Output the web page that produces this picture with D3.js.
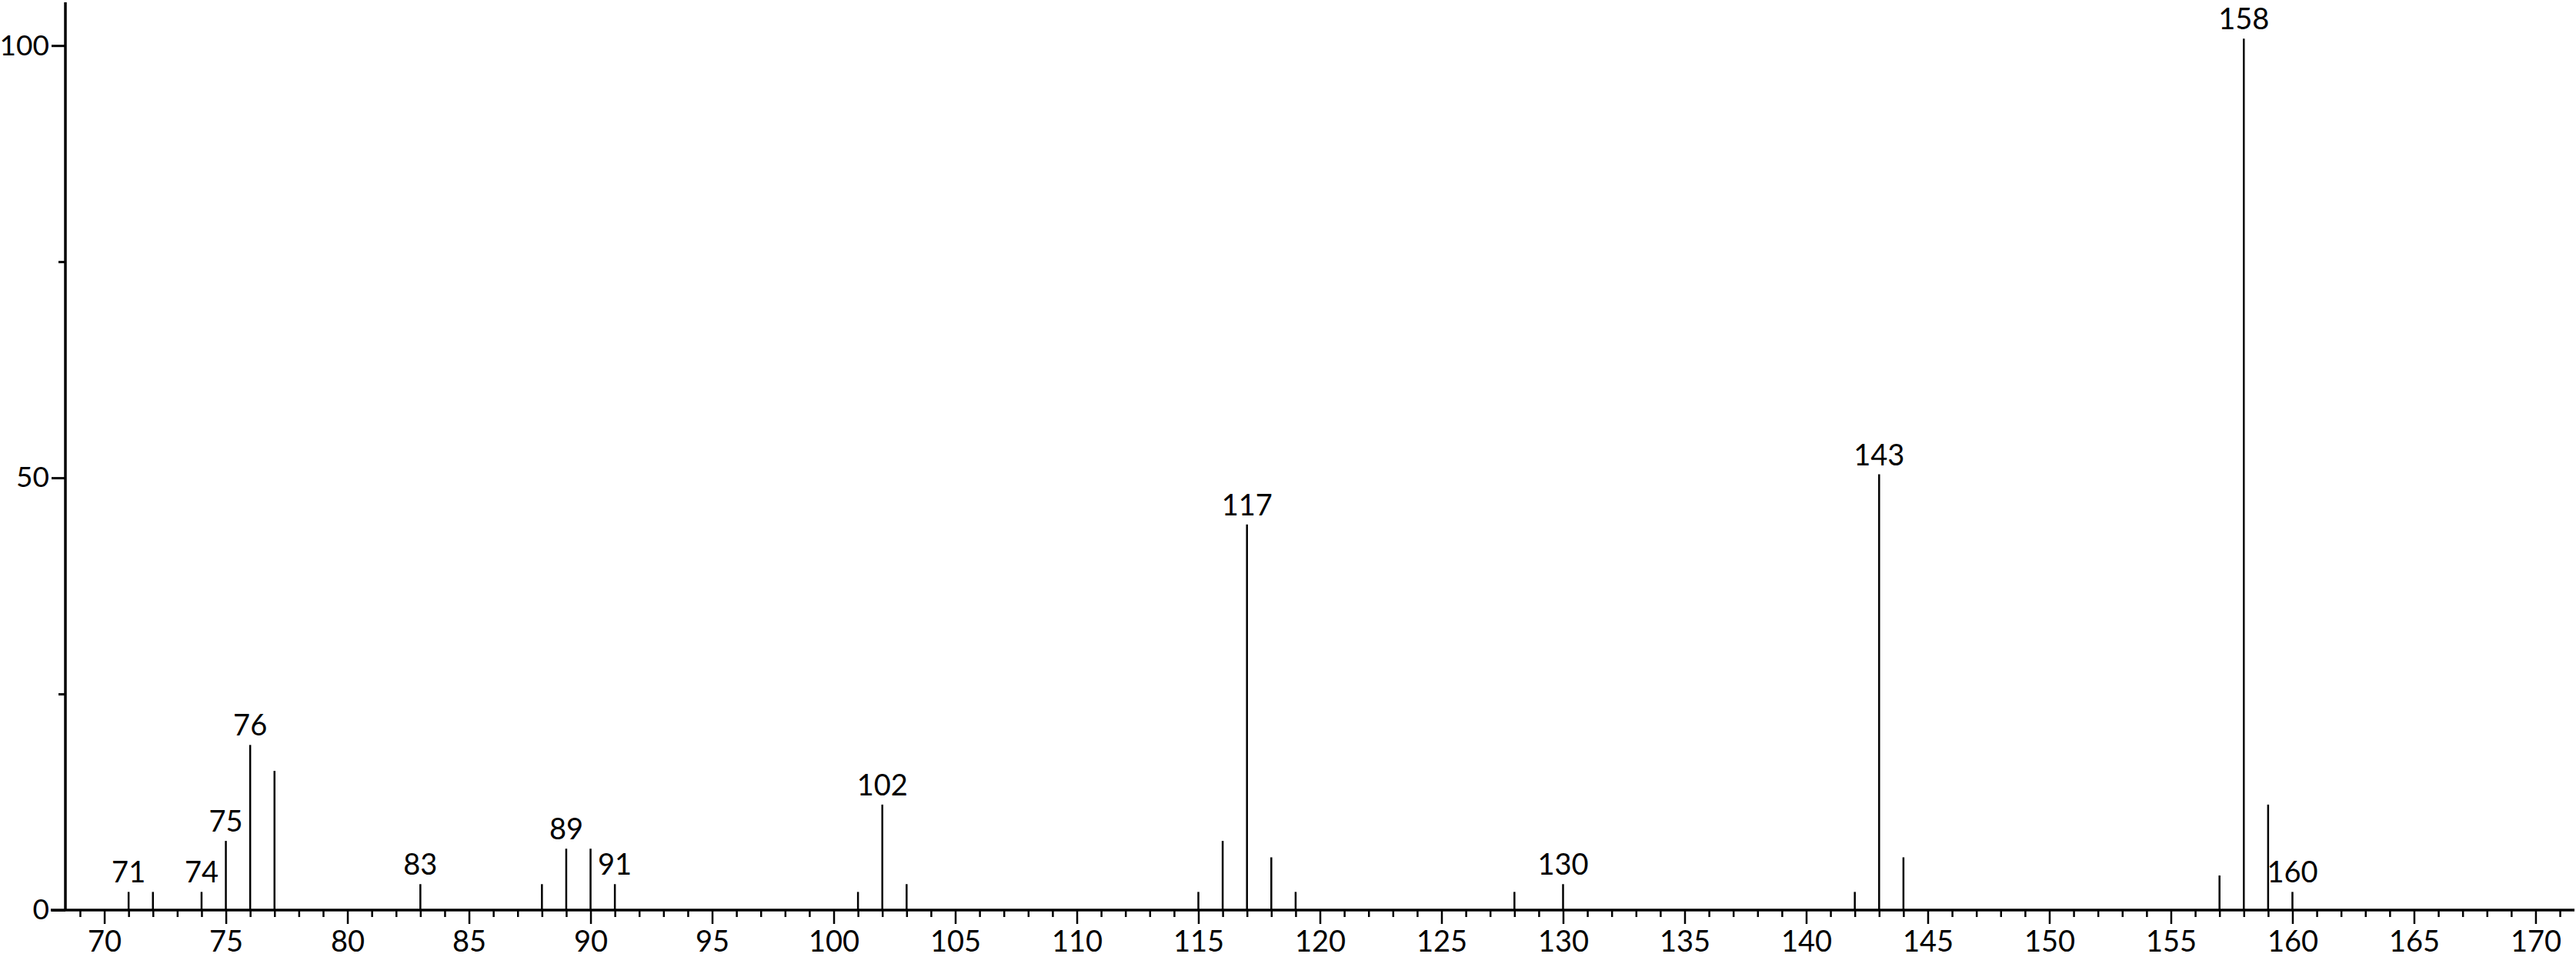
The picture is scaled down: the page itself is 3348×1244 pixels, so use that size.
<!DOCTYPE html>
<html>
<head>
<meta charset="utf-8">
<script src="https://cdn.jsdelivr.net/npm/d3@7"></script>
<style>
  body { margin: 0; background: #fff; }
  svg text { font-family: Lato, "Open Sans", sans-serif; fill: #000; }
</style>
</head>
<body>
<div id="chart"></div>
<script>
// m/z values and relative intensities
const mz =        [71, 72, 74, 75, 76, 77, 83, 88, 89, 90, 91, 101, 102, 103, 115, 116, 117, 118, 119, 128, 130, 142, 143, 144, 157, 158, 159, 160];
const intensity = [2.1, 2.1, 2.1, 8.0, 19.1, 16.1, 3.0, 3.0, 7.1, 7.1, 3.0, 2.1, 12.2, 3.0, 2.1, 8.0, 44.6, 6.1, 2.1, 2.1, 3.0, 2.1, 50.4, 6.1, 4.0, 100.8, 12.2, 2.1];
const labelled =  [71, 74, 75, 76, 83, 89, 91, 102, 117, 130, 143, 158, 160];

const xTicksMajor = [70, 75, 80, 85, 90, 95, 100, 105, 110, 115, 120, 125, 130, 135, 140, 145, 150, 155, 160, 165, 170];
const yTicksMajor = [0, 50, 100];
const yTicksMinor = [25, 75];

const W = 3348, H = 1244;
const margin = { top: 3, right: 2, bottom: 61, left: 85 };

const peaks = mz.map((m, i) => ({ mz: m, v: intensity[i], lab: labelled.includes(m) }));

const x = d3.scaleLinear()
    .domain([68.4, 171.6])
    .range([margin.left, W - margin.right]);

const y = d3.scaleLinear()
    .domain([0, 105])
    .range([H - margin.bottom, margin.top]);

const svg = d3.select("#chart").append("svg")
    .attr("width", W)
    .attr("height", H);

// minor x ticks every 1
const minorX = d3.range(69, 172).filter(v => v % 5 !== 0);
svg.append("g")
    .attr("transform", `translate(0,${y(0)})`)
    .call(d3.axisBottom(x).tickValues(minorX).tickSize(9).tickSizeOuter(0).tickFormat(""))
    .call(g => g.select(".domain").remove())
    .call(g => g.selectAll("line").attr("stroke-width", 2.5));

// major x ticks with labels
svg.append("g")
    .attr("transform", `translate(0,${y(0)})`)
    .call(d3.axisBottom(x).tickValues(xTicksMajor).tickSize(18).tickPadding(9).tickFormat(d3.format("d")))
    .call(g => g.select(".domain").remove())
    .call(g => g.selectAll("line").attr("stroke-width", 2.5))
    .call(g => g.selectAll("text").attr("font-size", 38).attr("font-family", "Lato"));

// y axis
svg.append("g")
    .attr("transform", `translate(${margin.left},0)`)
    .call(d3.axisLeft(y).tickValues(yTicksMajor).tickSize(18).tickPadding(3).tickSizeOuter(0))
    .call(g => g.select(".domain").remove())
    .call(g => g.selectAll("line").attr("stroke-width", 3))
    .call(g => g.selectAll("text").attr("font-size", 37).attr("font-family", "Lato"));

svg.append("g")
    .attr("transform", `translate(${margin.left},0)`)
    .call(d3.axisLeft(y).tickValues(yTicksMinor).tickSize(9).tickFormat(""))
    .call(g => g.select(".domain").remove())
    .call(g => g.selectAll("line").attr("stroke-width", 3));

// axis lines
svg.append("line")
    .attr("x1", margin.left).attr("x2", margin.left)
    .attr("y1", y(105)).attr("y2", y(0))
    .attr("stroke", "#000").attr("stroke-width", 3.5);

svg.append("line")
    .attr("x1", margin.left - 19).attr("x2", x.range()[1])
    .attr("y1", y(0)).attr("y2", y(0))
    .attr("stroke", "#000").attr("stroke-width", 3.5);

// sticks
svg.selectAll(".stick")
    .data(peaks)
    .enter()
    .append("line")
    .attr("class", "stick")
    .attr("x1", d => x(d.mz)).attr("x2", d => x(d.mz))
    .attr("y1", y(0)).attr("y2", d => y(d.v))
    .attr("stroke", "#000")
    .attr("stroke-width", 2.5);

// peak labels
svg.selectAll(".plabel")
    .data(peaks.filter(d => d.lab))
    .enter()
    .append("text")
    .attr("class", "plabel")
    .attr("x", d => x(d.mz))
    .attr("y", d => y(d.v) - 12)
    .attr("text-anchor", "middle")
    .attr("font-size", 38)
    .text(d => d.mz);
</script>
</body>
</html>
